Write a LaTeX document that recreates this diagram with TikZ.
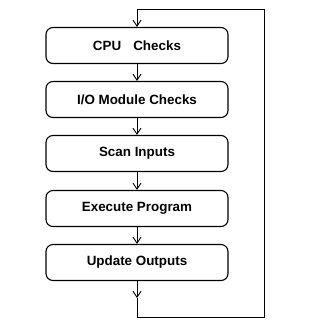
\documentclass[tikz,border=0pt]{standalone}
\usepackage{fontspec}
\setmainfont{Liberation Sans}
\usetikzlibrary{arrows.meta}
\begin{document}
\begin{tikzpicture}[
        x=1pt, y=1pt,
        stage/.style={draw, line width=1.1pt, rounded corners=7pt, minimum width=182pt,
                      minimum height=36pt, font=\fontsize{13.4}{15}\selectfont\bfseries},
        flow/.style={-{Straight Barb[length=6pt, width=8pt]}, line width=0.9pt},
        loop/.style={line width=0.9pt}
    ]
        \useasboundingbox (0,0) rectangle (326,-325);

        % Scan cycle stages
        \node[stage] (cpu) at (137, -45.5) {CPU\hspace{0.9em}Checks};
        \node[stage] (io)  at (137, -99.5) {I/O Module Checks};
        \node[stage] (scan) at (137, -153.5) {Scan Inputs};
        \node[stage] (exec) at (137, -208.5) {Execute Program};
        \node[stage] (upd) at (137, -262.5) {Update Outputs};

        % Arrows between stages
        \draw[flow] (cpu) -- (io);
        \draw[flow] (io) -- (scan);
        \draw[flow] (scan) -- (exec);
        \draw[flow] (exec) -- (upd);

        % Return path
        \coordinate (mid) at (137, -298);
        \coordinate (bl) at (137, -317);
        \coordinate (br) at (264, -317);
        \coordinate (tr) at (264, -9.5);
        \coordinate (tl) at (137, -9.5);
        \draw[flow] (upd) -- (mid);
        \draw[loop] (mid) -- (bl) -- (br) -- (tr) -- (tl);
        \draw[flow] (tl) -- (cpu);
    \end{tikzpicture}
\end{document}
